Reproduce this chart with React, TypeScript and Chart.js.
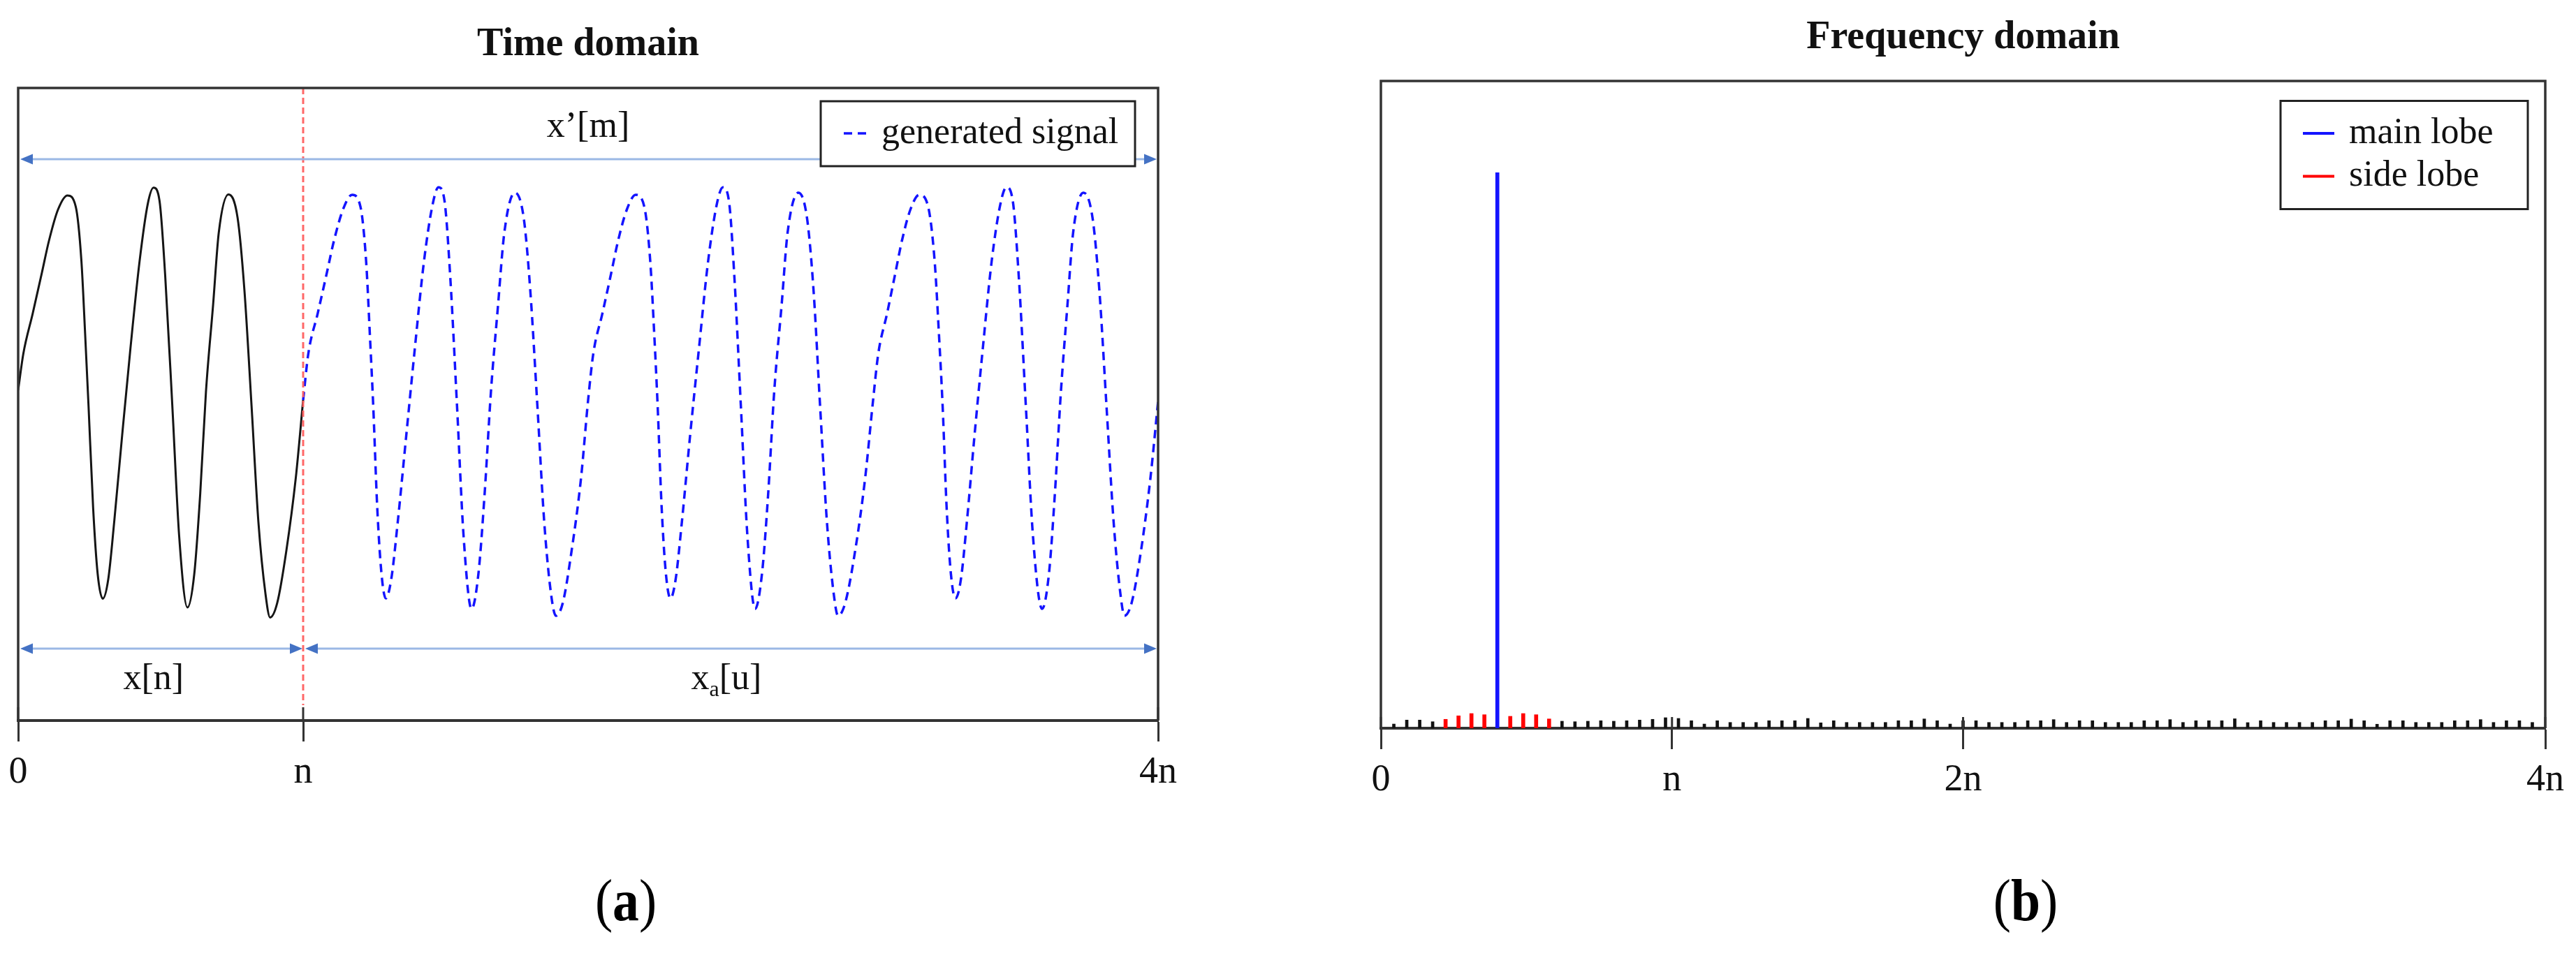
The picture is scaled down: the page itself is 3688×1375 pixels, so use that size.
import React, { useEffect, useRef } from "react";
import { Chart, registerables } from "chart.js";

Chart.register(...registerables);

const FONT = "'Liberation Serif', 'Times New Roman', Times, serif";

// ---------------- (a) Time domain ----------------
const timeTitle = "Time domain";
const timeTickValues = [0, 1, 4]; // in units of n
const timeTickLabels = ["0", "n", "4n"];
const timeLegendLabel = "generated signal";

// original signal x[n], 0 .. n  ([position in n, amplitude])
const originalSignal: [number, number][] = [
  [0.0, 0.044], [0.018, 0.217], [0.051, 0.41], [0.083, 0.603], [0.108, 0.757], [0.14, 0.907],
  [0.173, 0.974], [0.202, 0.921], [0.222, 0.66], [0.235, 0.313], [0.247, -0.032], [0.263, -0.516],
  [0.279, -0.833], [0.297, -0.951], [0.316, -0.86], [0.337, -0.585], [0.365, -0.17], [0.394, 0.244],
  [0.426, 0.659], [0.455, 0.935], [0.475, 1.011], [0.496, 0.949], [0.516, 0.59], [0.541, -0.032],
  [0.565, -0.653], [0.594, -0.993], [0.618, -0.833], [0.639, -0.447], [0.659, 0.037], [0.684, 0.451],
  [0.704, 0.797], [0.738, 0.979], [0.77, 0.867], [0.794, 0.521], [0.819, -0.032], [0.843, -0.585],
  [0.868, -0.93], [0.884, -1.041], [0.909, -0.972], [0.941, -0.723], [0.974, -0.377], [1.0, -0.003],
];

// generated signal x_a[u], n .. 4n
const generatedSignal: [number, number][] = [
  [1.0, -0.003],
  [1.018, 0.217], [1.051, 0.41], [1.083, 0.603], [1.108, 0.757], [1.14, 0.907], [1.172, 0.977],
  [1.201, 0.921], [1.221, 0.66], [1.234, 0.313], [1.246, -0.032], [1.26, -0.516], [1.275, -0.833],
  [1.29, -0.95], [1.309, -0.86], [1.332, -0.585], [1.362, -0.17], [1.392, 0.244], [1.424, 0.659],
  [1.455, 0.935], [1.475, 1.013], [1.496, 0.949], [1.516, 0.59], [1.54, -0.032], [1.563, -0.653],
  [1.591, -1.0], [1.615, -0.833], [1.637, -0.447], [1.659, 0.037], [1.684, 0.451], [1.706, 0.797],
  [1.743, 0.987], [1.774, 0.867], [1.797, 0.521], [1.822, -0.032], [1.846, -0.585], [1.87, -0.93],
  [1.887, -1.033], [1.911, -0.972], [1.942, -0.723], [1.975, -0.377], [2.0, -0.003],
  [2.018, 0.217], [2.05, 0.41], [2.081, 0.603], [2.105, 0.757], [2.136, 0.907], [2.167, 0.977],
  [2.197, 0.921], [2.218, 0.66], [2.232, 0.313], [2.244, -0.032], [2.258, -0.516], [2.273, -0.833],
  [2.289, -0.95], [2.307, -0.86], [2.329, -0.585], [2.358, -0.17], [2.389, 0.244], [2.421, 0.659],
  [2.452, 0.935], [2.473, 1.013], [2.494, 0.949], [2.513, 0.59], [2.536, -0.032], [2.559, -0.653],
  [2.586, -1.0], [2.61, -0.833], [2.632, -0.447], [2.653, 0.037], [2.679, 0.451], [2.7, 0.797],
  [2.738, 0.987], [2.768, 0.867], [2.791, 0.521], [2.814, -0.032], [2.838, -0.585], [2.862, -0.93],
  [2.877, -1.033], [2.902, -0.972], [2.937, -0.723], [2.972, -0.377], [3.0, -0.003],
  [3.018, 0.217], [3.049, 0.41], [3.078, 0.603], [3.101, 0.757], [3.131, 0.907], [3.162, 0.977],
  [3.193, 0.921], [3.216, 0.66], [3.231, 0.313], [3.244, -0.032], [3.258, -0.516], [3.273, -0.833],
  [3.289, -0.95], [3.308, -0.86], [3.329, -0.585], [3.356, -0.17], [3.385, 0.244], [3.416, 0.659],
  [3.447, 0.935], [3.468, 1.013], [3.49, 0.949], [3.511, 0.59], [3.536, -0.032], [3.561, -0.653],
  [3.593, -1.0], [3.617, -0.833], [3.638, -0.447], [3.659, 0.037], [3.682, 0.451], [3.702, 0.797],
  [3.738, 0.987], [3.77, 0.867], [3.794, 0.521], [3.819, -0.032], [3.844, -0.585], [3.868, -0.93],
  [3.882, -1.033], [3.907, -0.972], [3.94, -0.723], [3.973, -0.377], [4.0, -0.01],
];

// span annotations: [start, end, level]
const boundaryPosition = 1; // red dashed line at n
const boundaryLineEnd = -1.46;
const spanWhole = [0, 4, 1.147];
const spanOriginal = [0, 1, -1.19];
const spanGenerated = [1, 4, -1.19];
const spanWholeLabel = { text: "x\u2019[m]", x: 2.0, y: 1.3 };
const spanOriginalLabel = { text: "x[n]", x: 0.475, y: -1.337 };
const spanGeneratedLabel = { base: "x", sub: "a", rest: "[u]", x: 2.485, y: -1.337 };
const timeYRange = [-1.533, 1.487];

// ---------------- (b) Frequency domain ----------------
const freqTitle = "Frequency domain";
const freqTickValues = [0, 22.5, 45, 90]; // in frequency bins (n = 22.5 bins)
const freqTickLabels = ["0", "n", "2n", "4n"];
const freqLegendLabels = ["main lobe", "side lobe"];
// magnitude (% of main lobe) of bins 1 .. 89
const spectrumMagnitude = [
  0.75, 1.47, 1.47, 1.17, 1.6, 2.23, 2.64, 2.43, 100, 2.14,
  2.64, 2.43, 1.67, 1.26, 1.17, 1.26, 1.35, 1.26, 1.35, 1.47,
  1.6, 1.89, 1.76, 1.35, 0.75, 1.35, 1.04, 1.04, 1.04, 1.35,
  1.35, 1.35, 1.76, 0.97, 1.35, 1.04, 1.04, 1.04, 1.04, 1.35,
  1.35, 1.67, 1.35, 0.75, 1.35, 1.35, 1.04, 1.04, 1.04, 1.35,
  1.35, 1.55, 1.04, 1.35, 1.35, 1.04, 1.04, 1.04, 1.35, 1.35,
  1.55, 1.04, 1.35, 1.35, 1.35, 1.7, 1.01, 1.35, 1.04, 1.04,
  1.04, 1.04, 1.35, 1.35, 1.64, 1.35, 0.72, 1.35, 1.35, 1.04,
  1.04, 1.04, 1.35, 1.35, 1.55, 1.04, 1.35, 1.35, 1.04,
];
const mainLobeBins = [9];
const sideLobeBins = [5, 6, 7, 8, 10, 11, 12, 13];
const freqYRange = [0, 116.5];

// ---------------- styles ----------------
const FRAME = "#333333";
const ARROW_LINE = "rgba(150,180,228,0.95)";
const ARROW_HEAD = "#4472c4";
const BLUE = "rgb(20,20,255)";
const RED = "rgb(255,0,0)";

function drawFrame(chart: any, stubLen: number) {
  const { ctx, chartArea: a } = chart;
  ctx.save();
  ctx.strokeStyle = FRAME;
  ctx.lineWidth = 3.5;
  ctx.setLineDash([]);
  ctx.beginPath();
  ctx.moveTo(a.left, a.bottom);
  ctx.lineTo(a.left, a.top);
  ctx.lineTo(a.right, a.top);
  ctx.lineTo(a.right, a.bottom);
  ctx.stroke();
  // inner part of the tick marks
  const xs = chart.scales.x;
  ctx.lineWidth = 3;
  xs.ticks.forEach((t: any) => {
    const px = xs.getPixelForValue(t.value);
    ctx.beginPath();
    ctx.moveTo(px, a.bottom);
    ctx.lineTo(px, a.bottom - stubLen);
    ctx.stroke();
  });
  ctx.restore();
}

function drawArrow(ctx: any, x1: number, x2: number, y: number) {
  const L = 18, H = 7.5;
  ctx.save();
  ctx.strokeStyle = ARROW_LINE;
  ctx.lineWidth = 3;
  ctx.beginPath();
  ctx.moveTo(x1 + L - 2, y);
  ctx.lineTo(x2 - L + 2, y);
  ctx.stroke();
  ctx.fillStyle = ARROW_HEAD;
  ctx.beginPath();
  ctx.moveTo(x1, y);
  ctx.lineTo(x1 + L, y - H);
  ctx.lineTo(x1 + L, y + H);
  ctx.closePath();
  ctx.fill();
  ctx.beginPath();
  ctx.moveTo(x2, y);
  ctx.lineTo(x2 - L, y - H);
  ctx.lineTo(x2 - L, y + H);
  ctx.closePath();
  ctx.fill();
  ctx.restore();
}

const timeOverlay = {
  id: "timeOverlay",
  afterDatasetsDraw(chart: any) {
    const { ctx, chartArea: a } = chart;
    const xs = chart.scales.x, ys = chart.scales.y;
    ctx.save();
    // boundary
    const bx = xs.getPixelForValue(boundaryPosition);
    ctx.strokeStyle = "rgba(255,95,95,0.95)";
    ctx.lineWidth = 3;
    ctx.setLineDash([9, 5]);
    ctx.beginPath();
    ctx.moveTo(bx, a.top);
    ctx.lineTo(bx, ys.getPixelForValue(boundaryLineEnd));
    ctx.stroke();
    ctx.setLineDash([]);
    // arrows
    drawArrow(ctx, xs.getPixelForValue(spanWhole[0]) + 3, xs.getPixelForValue(spanWhole[1]) - 2, ys.getPixelForValue(spanWhole[2]));
    drawArrow(ctx, xs.getPixelForValue(spanOriginal[0]) + 3, xs.getPixelForValue(spanOriginal[1]) - 1, ys.getPixelForValue(spanOriginal[2]));
    drawArrow(ctx, xs.getPixelForValue(spanGenerated[0]) + 3, xs.getPixelForValue(spanGenerated[1]) - 2, ys.getPixelForValue(spanGenerated[2]));
    // labels
    const size = 52;
    ctx.fillStyle = "#111";
    ctx.textBaseline = "middle";
    ctx.textAlign = "center";
    ctx.font = `${size}px ${FONT}`;
    ctx.fillText(spanWholeLabel.text, xs.getPixelForValue(spanWholeLabel.x), ys.getPixelForValue(spanWholeLabel.y));
    ctx.fillText(spanOriginalLabel.text, xs.getPixelForValue(spanOriginalLabel.x), ys.getPixelForValue(spanOriginalLabel.y));
    const g = spanGeneratedLabel;
    const cx = xs.getPixelForValue(g.x), cy = ys.getPixelForValue(g.y);
    const mainFont = `${size}px ${FONT}`, subFont = `${Math.round(size * 0.62)}px ${FONT}`;
    ctx.font = mainFont;
    const w1 = ctx.measureText(g.base).width, w3 = ctx.measureText(g.rest).width;
    ctx.font = subFont;
    const w2 = ctx.measureText(g.sub).width;
    const x0 = cx - (w1 + w2 + w3) / 2;
    ctx.textAlign = "left";
    ctx.font = mainFont;
    ctx.fillText(g.base, x0, cy);
    ctx.font = subFont;
    ctx.fillText(g.sub, x0 + w1, cy + size * 0.3);
    ctx.font = mainFont;
    ctx.fillText(g.rest, x0 + w1 + w2, cy);
    ctx.restore();
  },
  afterDraw(chart: any) {
    drawFrame(chart, 19);
    const { ctx, chartArea: a } = chart;
    // legend
    const bw = 450, bh = 93;
    const bx = a.right - 33 - bw, by = a.top + 19;
    ctx.save();
    ctx.fillStyle = "#fff";
    ctx.fillRect(bx, by, bw, bh);
    ctx.strokeStyle = "#222";
    ctx.lineWidth = 3;
    ctx.strokeRect(bx, by, bw, bh);
    const ly = by + 46;
    ctx.strokeStyle = BLUE;
    ctx.lineWidth = 3.5;
    ctx.setLineDash([12, 8]);
    ctx.beginPath();
    ctx.moveTo(bx + 33, ly);
    ctx.lineTo(bx + 65, ly);
    ctx.stroke();
    ctx.setLineDash([]);
    ctx.fillStyle = "#111";
    ctx.font = `52px ${FONT}`;
    ctx.textAlign = "left";
    ctx.textBaseline = "middle";
    ctx.fillText(timeLegendLabel, bx + 87, ly);
    ctx.restore();
  },
};

const freqOverlay = {
  id: "freqOverlay",
  afterDraw(chart: any) {
    drawFrame(chart, 16);
    const { ctx, chartArea: a } = chart;
    const bw = 354, bh = 155;
    const bx = a.right - 25 - bw, by = a.top + 28.5;
    ctx.save();
    ctx.fillStyle = "#fff";
    ctx.fillRect(bx, by, bw, bh);
    ctx.strokeStyle = "#222";
    ctx.lineWidth = 3;
    ctx.strokeRect(bx, by, bw, bh);
    const colors = [BLUE, RED];
    freqLegendLabels.forEach((lab, i) => {
      const ly = by + 46.5 + i * 61.5;
      ctx.strokeStyle = colors[i];
      ctx.lineWidth = 4;
      ctx.beginPath();
      ctx.moveTo(bx + 32, ly);
      ctx.lineTo(bx + 77, ly);
      ctx.stroke();
      ctx.fillStyle = "#111";
      ctx.font = `52px ${FONT}`;
      ctx.textAlign = "left";
      ctx.textBaseline = "middle";
      ctx.fillText(lab, bx + 98, ly);
    });
    ctx.restore();
  },
};

function xAxis(min: number, max: number, values: number[], labels: string[], height: number) {
  return {
    type: "linear",
    min,
    max,
    offset: false,
    afterBuildTicks: (s: any) => {
      s.ticks = values.map((v) => ({ value: v }));
    },
    afterFit: (s: any) => {
      s.height = height;
    },
    ticks: {
      autoSkip: false,
      maxRotation: 0,
      padding: 12,
      color: "#111",
      font: { family: FONT, size: 54 },
      callback: (_v: any, i: number) => labels[i],
    },
    grid: {
      offset: false,
      drawOnChartArea: false,
      drawTicks: true,
      tickLength: 30,
      tickWidth: 3,
      tickColor: FRAME,
    },
    border: { display: true, color: FRAME, width: 4 },
  };
}

export default function App() {
  const leftRef = useRef<HTMLCanvasElement | null>(null);
  const rightRef = useRef<HTMLCanvasElement | null>(null);

  useEffect(() => {
    const left = new Chart(leftRef.current as HTMLCanvasElement, {
      type: "line",
      data: {
        datasets: [
          {
            label: "x[n]",
            data: originalSignal.map(([x, y]) => ({ x, y })),
            borderColor: "#151515",
            borderWidth: 3,
            pointRadius: 0,
            cubicInterpolationMode: "monotone",
            fill: false,
          },
          {
            label: timeLegendLabel,
            data: generatedSignal.map(([x, y]) => ({ x, y })),
            borderColor: BLUE,
            borderWidth: 3.5,
            borderDash: [12, 8],
            pointRadius: 0,
            cubicInterpolationMode: "monotone",
            fill: false,
          },
        ],
      } as any,
      options: {
        animation: false,
        responsive: false,
        devicePixelRatio: 1,
        events: [],
        layout: { padding: { left: 26, right: 182, top: 0, bottom: 0 } },
        plugins: {
          legend: { display: false },
          tooltip: { enabled: false },
          title: {
            display: true,
            text: timeTitle,
            color: "#111",
            font: { family: FONT, size: 56, weight: "bold", lineHeight: 1.2 },
            padding: { top: 31.4, bottom: 27.4 },
          },
        },
        scales: {
          x: xAxis(0, 4, timeTickValues, timeTickLabels, 168) as any,
          y: { display: false, min: timeYRange[0], max: timeYRange[1] },
        },
      } as any,
      plugins: [timeOverlay],
    });

    const bins = spectrumMagnitude.map((v, i) => ({ x: i + 1, y: v }));
    const right = new Chart(rightRef.current as HTMLCanvasElement, {
      type: "bar",
      data: {
        datasets: [
          {
            label: "other bins",
            data: bins.filter((p) => !mainLobeBins.includes(p.x) && !sideLobeBins.includes(p.x)),
            backgroundColor: "#111",
            barThickness: 4,
            grouped: false,
          },
          {
            label: freqLegendLabels[1],
            data: bins.filter((p) => sideLobeBins.includes(p.x)),
            backgroundColor: RED,
            barThickness: 5,
            grouped: false,
          },
          {
            label: freqLegendLabels[0],
            data: bins.filter((p) => mainLobeBins.includes(p.x)),
            backgroundColor: BLUE,
            barThickness: 5,
            grouped: false,
          },
        ],
      } as any,
      options: {
        animation: false,
        responsive: false,
        devicePixelRatio: 1,
        events: [],
        layout: { padding: { left: 137, right: 44, top: 0, bottom: 0 } },
        plugins: {
          legend: { display: false },
          tooltip: { enabled: false },
          title: {
            display: true,
            text: freqTitle,
            color: "#111",
            font: { family: FONT, size: 56, weight: "bold", lineHeight: 1.2 },
            padding: { top: 21.4, bottom: 27.4 },
          },
        },
        scales: {
          x: xAxis(0, 90, freqTickValues, freqTickLabels, 157) as any,
          y: { display: false, min: freqYRange[0], max: freqYRange[1] },
        },
      } as any,
      plugins: [freqOverlay],
    });

    return () => {
      left.destroy();
      right.destroy();
    };
  }, []);

  const caption: React.CSSProperties = {
    position: "absolute",
    top: 1248,
    width: 200,
    textAlign: "center",
    fontFamily: FONT,
    fontSize: 84,
    lineHeight: "84px",
    color: "#000",
    transform: "scaleX(0.9)",
  };

  return (
    <div style={{ position: "absolute", left: 0, top: 0, width: 3688, height: 1375, background: "#fff", overflow: "hidden" }}>
      <canvas ref={leftRef} width={1840} height={1200} style={{ position: "absolute", left: 0, top: 0, width: 1840, height: 1200 }} />
      <canvas ref={rightRef} width={1848} height={1200} style={{ position: "absolute", left: 1840, top: 0, width: 1848, height: 1200 }} />
      <div style={{ ...caption, left: 796 }}>
        (<b>a</b>)
      </div>
      <div style={{ ...caption, left: 2800 }}>
        (<b>b</b>)
      </div>
    </div>
  );
}
